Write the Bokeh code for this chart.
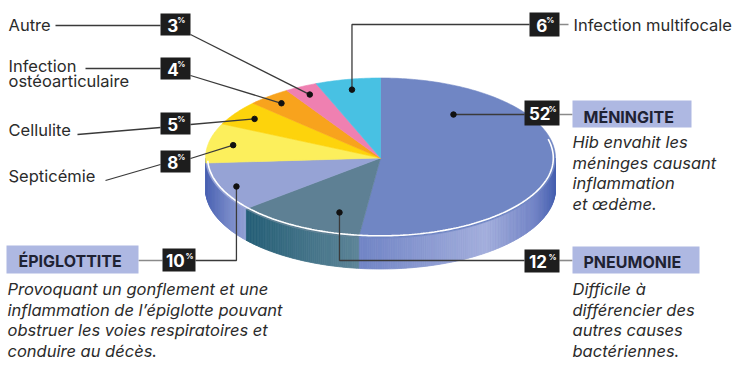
import numpy as np
from bokeh.plotting import figure
from bokeh.models import Range1d, ColumnDataSource
from bokeh.core.properties import value
from bokeh.embed import file_html
from bokeh.resources import INLINE

# ---------------- data ----------------
categories = ["Méningite", "Pneumonie", "Épiglottite", "Septicémie", "Cellulite",
              "Infection ostéoarticulaire", "Autre", "Infection multifocale"]
values = [52, 12, 10, 8, 5, 4, 3, 6]
title_lines = [["MÉNINGITE"], ["PNEUMONIE"], ["ÉPIGLOTTITE"], ["Septicémie"], ["Cellulite"],
               ["Infection", "ostéoarticulaire"], ["Autre"], ["Infection multifocale"]]
descriptions = [
    ["Hib envahit les", "méninges causant", "inflammation", "et œdème."],
    ["Difficile à", "différencier des", "autres causes", "bactériennes."],
    ["Provoquant un gonflement et une", "inflammation de l’épiglotte pouvant",
     "obstruer les voies respiratoires et", "conduire au décès."],
]

# ---------------- styles / layout ----------------
top_colors = ["#7086c4", "#5e8094", "#96a3d5", "#fcef5c", "#fdd30c", "#f8a31d", "#ef80b1", "#48c1e3"]
side_stops = {
    0: [(-0.13, (112, 132, 197)), (0.60, (163, 174, 220)), (0.88, (112, 130, 197)), (1.0, (70, 96, 176))],
    1: [(-0.78, (36, 94, 118)), (-0.12, (94, 133, 152))],
    2: [(-1.0, (76, 100, 180)), (-0.76, (150, 163, 214))],
    3: [(-1.0, (76, 100, 180)), (-0.99, (76, 100, 180))],
}
CX, CY, RX, RY, DEPTH = 380.0, 157.5, 175.0, 80.0, 31.0
FONT = "Inter"
TXT = "#2b2b2b"
DARK = "#3a3a3a"
GREY = "#8a8a8a"
LBL_BG = "#aeb8e2"
BOX_BG = "#1d1d1d"
BASE_FIX = 0.33  # renderer places alphabetic baseline this many em lower

# dot placement (angle clockwise from top in degrees or None = mid angle, radius fraction)
dot_spec = [(37.5, 0.685), (199.0, 0.72), (246.6, 0.897), (None, 0.857),
            (None, 0.87), (None, 0.888), (None, 0.89), (None, 0.87)]
pct_box = [(524, 559, 100, 125), (524, 559, 249, 272), (162, 195, 248, 271), (160, 190, 150, 172),
           (160, 190, 112, 134), (160, 190, 57, 79), (160, 190, 13, 35), (529, 559, 12, 36)]

W, H = 745, 369
p = figure(width=W, height=H, x_range=Range1d(0, W), y_range=Range1d(H, 0),
           output_backend="svg", toolbar_location=None, x_axis_type=None, y_axis_type=None,
           min_border=0)
p.grid.visible = False
p.outline_line_color = None
p.background_fill_color = "white"


def ex(t, rx=RX):
    return CX + rx * np.sin(np.radians(t))


def ey(t, ry=RY):
    return CY - ry * np.cos(np.radians(t))


def hexc(rgb):
    return "#%02x%02x%02x" % tuple(int(round(c)) for c in rgb)


def by(ys, size):
    return [y - BASE_FIX * size for y in ys]


total = float(sum(values))
bounds = np.concatenate([[0.0], np.cumsum(values)]) / total * 360.0

# ---------- side ----------
sx, sy, sc = [], [], []
for i in range(len(values)):
    a0, a1 = max(bounds[i], 90.0), min(bounds[i + 1], 270.0)
    if a1 <= a0:
        continue
    n = max(2, int((a1 - a0) / 0.7))
    ts = np.linspace(a0, a1, n + 1)
    stops = side_stops.get(i, [(-1, (150, 150, 150)), (1, (150, 150, 150))])
    us = [s[0] for s in stops]
    for k in range(n):
        t0, t1 = ts[k], ts[k + 1]
        um = np.sin(np.radians((t0 + t1) / 2))
        col = [np.interp(um, us, [s[1][c] for s in stops]) for c in range(3)]
        sx.append([ex(t0), ex(t1), ex(t1), ex(t0)])
        sy.append([ey(t0), ey(t1), ey(t1) + DEPTH, ey(t0) + DEPTH])
        sc.append(hexc(col))
p.patches("xs", "ys", source=ColumnDataSource(dict(xs=sx, ys=sy, c=sc)),
          fill_color="c", line_color="c", line_width=0.8)

# ---------- top face ----------
tx, ty = [], []
for i in range(len(values)):
    ts = np.linspace(bounds[i], bounds[i + 1], max(3, int(values[i] * 4)))
    tx.append([CX] + list(ex(ts)))
    ty.append([CY] + list(ey(ts)))
p.patches("xs", "ys", source=ColumnDataSource(dict(xs=tx, ys=ty, c=top_colors, n=categories)),
          fill_color="c", line_color="c", line_width=0.6)

# white rim highlight
rt = np.linspace(76, 268, 200)
p.line(ex(rt, RX - 2.2), ey(rt, RY - 2.2), line_color="white", line_width=1.6)

# ---------- dots & leaders ----------
dots = []
for i in range(len(values)):
    ang, fr = dot_spec[i]
    if ang is None:
        ang = (bounds[i] + bounds[i + 1]) / 2
    dots.append((CX + fr * RX * np.sin(np.radians(ang)), CY - fr * RY * np.cos(np.radians(ang))))

routes = []
for i, (dx, dy) in enumerate(dots):
    x0, x1, y0, y1 = pct_box[i]
    if i == 0:
        routes.append([(dx, dy), (x0, dy)])
    elif i == 1:
        routes.append([(dx, dy), (dx, 260), (x0, 260)])
    elif i == 2:
        routes.append([(dx, dy), (dx, 260), (x1, 260)])
    elif i == 7:
        routes.append([(dx, dy), (dx, 24), (x0, 24)])
    else:
        routes.append([(dx, dy), (x1, {3: 158, 4: 124, 5: 75, 6: 34}[i])])
p.multi_line([[q[0] for q in r] for r in routes], [[q[1] for q in r] for r in routes],
             line_color=DARK, line_width=1.3)

# text-to-box connectors (left names)
lx = [[55, 160], [85, 160], [77, 160], [105, 160]]
ly = [[25, 25], [68, 68], [134, 127], [180, 164]]
p.multi_line(lx, ly, line_color=DARK, line_width=1.3)
gx = [[559, 572], [559, 572], [138, 162], [559, 568]]
gy = [[114, 114], [260, 260], [260, 260], [24, 24]]
p.multi_line(gx, gy, line_color=GREY, line_width=1.6)

p.scatter([d[0] for d in dots], [d[1] for d in dots], size=5.5, color="#111111")

# ---------- percentage boxes ----------
bx0 = [b[0] for b in pct_box]
bx1 = [b[1] for b in pct_box]
by0 = [b[2] for b in pct_box]
by1 = [b[3] for b in pct_box]
p.quad(left=bx0, right=bx1, top=by0, bottom=by1, fill_color=BOX_BG, line_color=None)
nx, ny, nt, px, py = [], [], [], [], []
for i, v in enumerate(values):
    x0, x1, y0, y1 = pct_box[i]
    s = str(v)
    numw = 9.6 * len(s)
    start = (x0 + x1) / 2 - (numw + 7) / 2
    nx.append(start)
    ny.append((y0 + y1) / 2 + 6.5)
    nt.append(s)
    px.append(start + numw + 0.5)
    py.append((y0 + y1) / 2 - 1.5)
p.text(nx, by(ny, 17), text=nt, text_font=value(FONT), text_font_style="bold", text_font_size="17px",
       text_color="white", text_baseline="alphabetic", text_align="left")
p.text(px, by(py, 8), text=["%"] * len(px), text_font=value(FONT), text_font_style="bold",
       text_font_size="8px", text_color="white", text_baseline="alphabetic", text_align="left")

# ---------- title boxes (big three) ----------
p.quad(left=[572, 572, 6], right=[691, 699, 138], top=[100, 246, 245], bottom=[127, 273, 273],
       fill_color=LBL_BG, line_color=None)
p.text([583, 583, 18], by([121.5, 267, 266], 16),
       text=[title_lines[0][0], title_lines[1][0], title_lines[2][0]],
       text_font=value(FONT), text_font_style="bold", text_font_size="16px", text_color="#1f2233",
       text_baseline="alphabetic", text_align="left")

# ---------- other names ----------
name_x = [8, 8, 8, 8, 8, 573]
name_y = [181, 135, 71, 86, 30, 30]
name_t = [title_lines[3][0], title_lines[4][0], title_lines[5][0], title_lines[5][1],
          title_lines[6][0], title_lines[7][0]]
p.text(name_x, by(name_y, 16.5), text=name_t, text_font=value(FONT), text_font_size="16.5px",
       text_color=TXT, text_baseline="alphabetic", text_align="left")

# ---------- descriptions ----------
dx_, dy_, dt_ = [], [], []
desc_pos = [(572, [147, 168, 188, 209]), (572, [294, 315, 335, 356]), (7, [294, 315, 335, 356])]
for j, lines in enumerate(descriptions):
    x, ys = desc_pos[j]
    for k, line in enumerate(lines):
        dx_.append(x)
        dy_.append(ys[k])
        dt_.append(line)
p.text(dx_, by(dy_, 16.5), text=dt_, text_font=value(FONT), text_font_style="italic",
       text_font_size="16.5px", text_color=TXT, text_baseline="alphabetic", text_align="left")

open("out.html", "w").write(file_html(p, INLINE))
